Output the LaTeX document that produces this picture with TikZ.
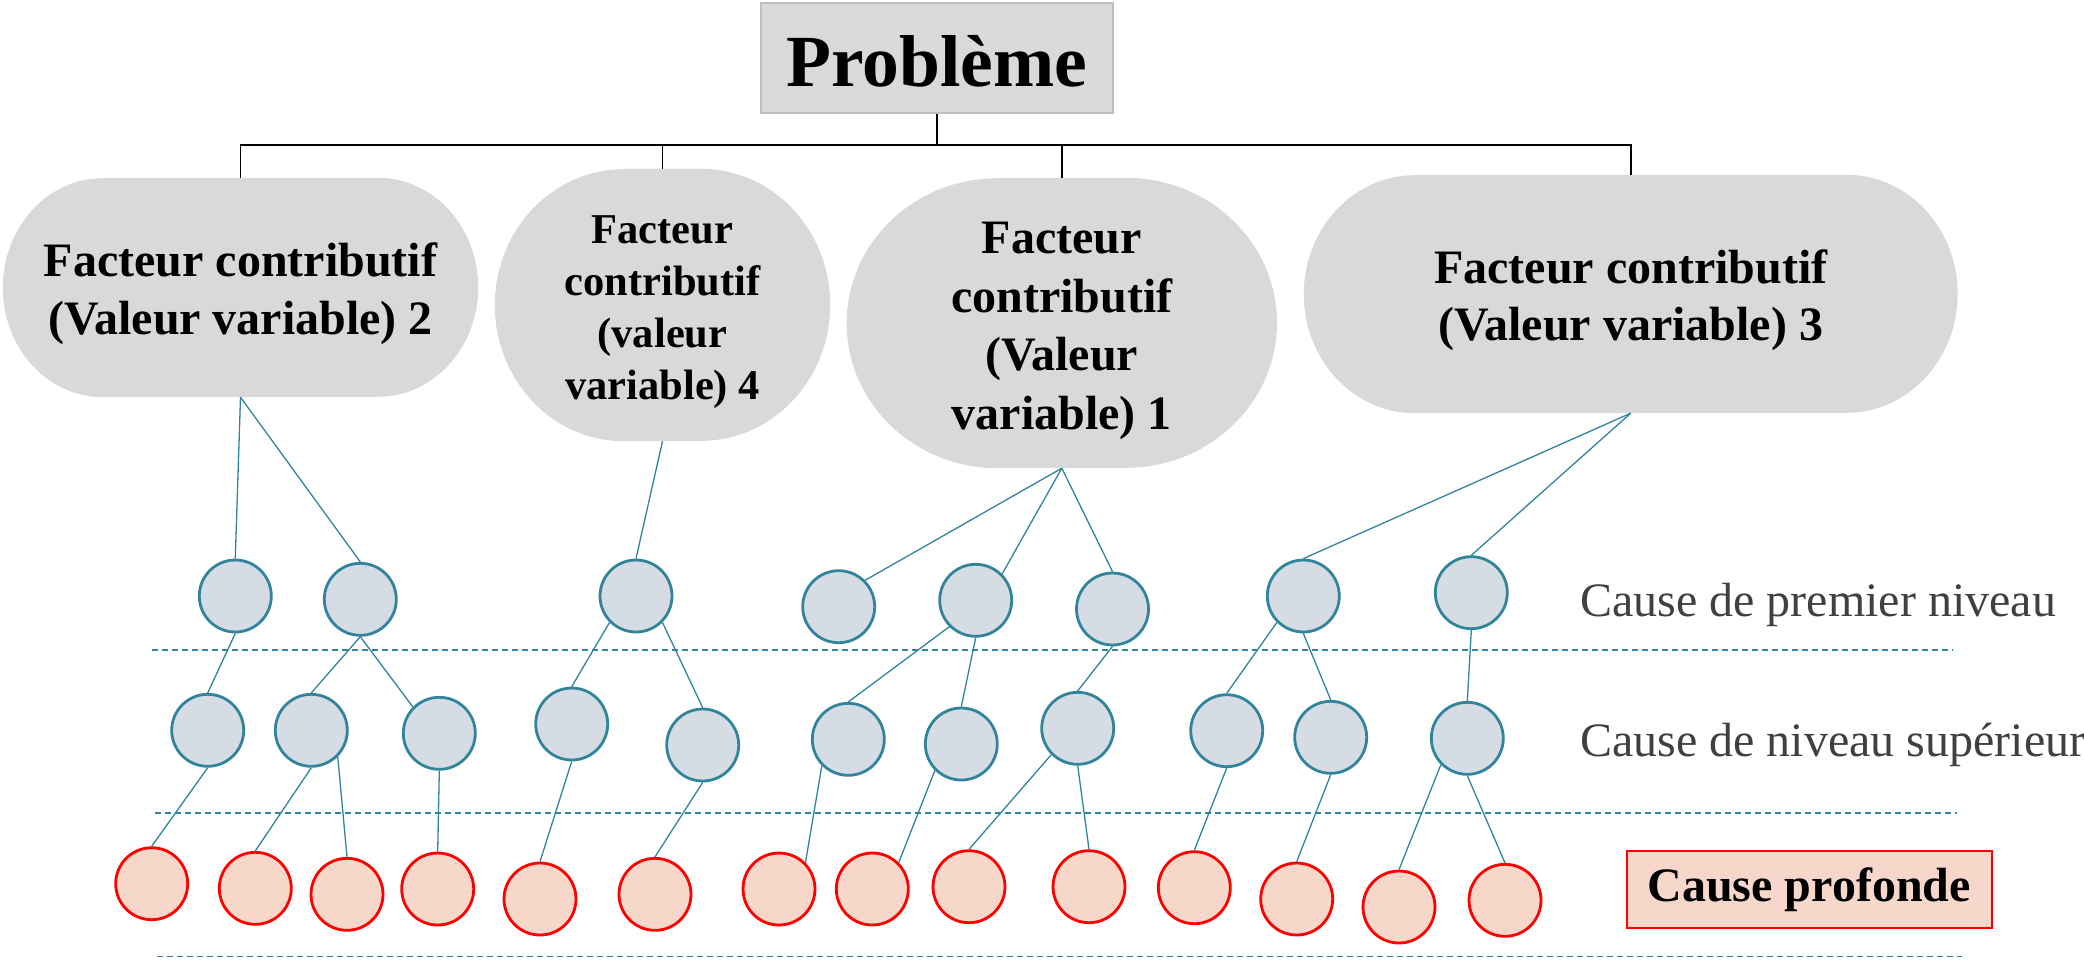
\documentclass[tikz,border=0pt]{standalone}
\usepackage{fontspec}
\setmainfont{Liberation Serif}
\usetikzlibrary{backgrounds}

\definecolor{boxgray}{HTML}{D9D9D9}
\definecolor{boxedge}{HTML}{BFBFBF}
\definecolor{tealline}{HTML}{31849B}
\definecolor{bluefill}{HTML}{D5DCE4}
\definecolor{redfill}{HTML}{F8D7CB}
\definecolor{pure red}{HTML}{FF0000}
\definecolor{labelgray}{HTML}{404040}

% rounded "stadium" with elliptical ends, behind a named node: name, x radius, y radius
\newcommand{\stadiumbox}[3]{%
  \fill[boxgray] ([xshift=#2]#1.north west) -- ([xshift=-#2]#1.north east)
    arc[start angle=90, end angle=-90, x radius=#2, y radius=#3]
    -- ([xshift=#2]#1.south west)
    arc[start angle=270, end angle=90, x radius=#2, y radius=#3] -- cycle;}

\tikzset{
  factor/.style={inner sep=0pt},
  factortext/.style={inner sep=0pt, align=center,
    font=\bfseries\fontsize{48}{57.5}\selectfont},
  cblue/.style={circle, draw=tealline, fill=bluefill, line width=2.8pt,
    minimum size=72pt, inner sep=0pt},
  cred/.style={circle, draw=pure red, fill=redfill, line width=2.8pt,
    minimum size=72pt, inner sep=0pt},
  link/.style={draw=tealline, line width=1.3pt},
  tree/.style={draw=black, line width=1.6pt},
  levelsep/.style={draw=tealline, line width=1.6pt, dash pattern=on 6pt off 4pt},
  levellabel/.style={anchor=base west, inner sep=0pt, text=labelgray,
    font=\fontsize{48}{57}\selectfont},
}

\begin{document}
\begin{tikzpicture}[x=1pt, y=-1pt]
\useasboundingbox (0,0) rectangle (2084,959);

% top problem box
\node[draw=boxedge, fill=boxgray, line width=2pt, minimum width=352pt,
  minimum height=110pt, inner sep=0pt] (prob) at (937,58) {};
\node[inner sep=0pt, font=\bfseries\fontsize{73.5}{88}\selectfont] (probtext)
  at ([yshift=-3pt]prob.center) {Problème};

% contributing factors: outline nodes, then their text
\node[factor, minimum width=475pt, minimum height=219pt] (f2) at (240.5,287.5) {};
\node[factor, minimum width=335pt, minimum height=272pt] (f4) at (662.5,305) {};
\node[factor, minimum width=430pt, minimum height=290pt] (f1) at (1061.8,323) {};
\node[factor, minimum width=653.5pt, minimum height=238pt] (f3) at (1630.7,294) {};

\begin{scope}[on background layer]
  \stadiumbox{f2}{100pt}{109.5pt}
  \stadiumbox{f4}{129pt}{136pt}
  \stadiumbox{f1}{151pt}{145pt}
  \stadiumbox{f3}{111pt}{119pt}
\end{scope}

\node[factortext] (f2text) at ([yshift=-6pt]f2.center)
  {Facteur contributif\\(Valeur variable) 2};
\node[factortext, font=\bfseries\fontsize{42.5}{51.8}\selectfont] (f4text)
  at ([yshift=-7pt]f4.center) {Facteur\\contributif\\(valeur\\variable) 4};
\node[factortext, font=\bfseries\fontsize{48}{58.5}\selectfont] (f1text)
  at ([yshift=-8pt]f1.center) {Facteur\\contributif\\(Valeur\\variable) 1};
\node[factortext] (f3text) at ([yshift=-6pt]f3.center)
  {Facteur contributif\\(Valeur variable) 3};

% organisation lines from the problem
\coordinate (bus) at (937,145);
\draw[tree] (prob.south) -- (bus);
\draw[tree] (bus) -| (f2.north);
\draw[tree] (bus) -| (f4.north);
\draw[tree] (bus) -| (f1.north);
\draw[tree] (bus) -| (f3.north);

% level separators
\coordinate (s1a) at (152,650);   \coordinate (s1b) at (1953,650);
\coordinate (s2a) at (155,813);   \coordinate (s2b) at (1957,813);
\coordinate (s3a) at (157,956.5); \coordinate (s3b) at (1962,956.5);
\draw[levelsep] (s1a) -- (s1b);
\draw[levelsep] (s2a) -- (s2b);
\draw[levelsep] (s3a) -- (s3b);

% first level causes
\node[cblue] (A) at (235.3,596) {};
\node[cblue] (B) at (360.3,599.3) {};
\node[cblue] (G) at (636,596) {};
\node[cblue] (H) at (838.7,606.7) {};
\node[cblue] (I) at (975.7,600.3) {};
\node[cblue] (J) at (1112.5,609) {};
\node[cblue] (P) at (1303.3,596) {};
\node[cblue] (Q) at (1471.3,592.7) {};

% higher level causes
\node[cblue] (C) at (207.7,730.3) {};
\node[cblue] (D) at (311.3,730.3) {};
\node[cblue] (E) at (439.3,733.3) {};
\node[cblue] (F) at (571.7,724) {};
\node[cblue] (K) at (702.7,745) {};
\node[cblue] (L) at (848.3,739.3) {};
\node[cblue] (M) at (961.3,744) {};
\node[cblue] (N) at (1077.7,728.3) {};
\node[cblue] (R) at (1226.7,730.7) {};
\node[cblue] (S) at (1330.7,737.3) {};
\node[cblue] (T) at (1467.3,738.3) {};

% root causes
\node[cred] (r1) at (151.7,883.7) {};
\node[cred] (r2) at (255.3,888.3) {};
\node[cred] (r3) at (347,894.3) {};
\node[cred] (r4) at (437.7,889) {};
\node[cred] (r5) at (540,899) {};
\node[cred] (r6) at (655,894.3) {};
\node[cred] (r7) at (779,889) {};
\node[cred] (r8) at (872.3,889) {};
\node[cred] (r9) at (969,886.7) {};
\node[cred] (r10) at (1089,886.7) {};
\node[cred] (r11) at (1194.3,887.7) {};
\node[cred] (r12) at (1296.7,899) {};
\node[cred] (r13) at (1399,907) {};
\node[cred] (r14) at (1505,900.3) {};

% factor to first level
\draw[link] (f2.south) -- (A.north);
\draw[link] (f2.south) -- (B.north);
\draw[link] (f4.south) -- (G.north);
\draw[link] (f1.south) -- (H.north east);
\draw[link] (f1.south) -- (I.north east);
\draw[link] (f1.south) -- (J.north);
\draw[link] (f3.south) -- (P.north);
\draw[link] (f3.south) -- (Q.north);

% first level to higher level
\draw[link] (A.south) -- (C.north);
\draw[link] (B.south) -- (D.north);
\draw[link] (B.south) -- (E.north west);
\draw[link] (G.south west) -- (F.north);
\draw[link] (G.south east) -- (K.north);
\draw[link] (I.south west) -- (L.north);
\draw[link] (I.south) -- (M.north);
\draw[link] (J.south) -- (N.north);
\draw[link] (P.south west) -- (R.north);
\draw[link] (P.south) -- (S.north);
\draw[link] (Q.south) -- (T.north);

% higher level to root causes
\draw[link] (C.south) -- (r1.north);
\draw[link] (D.south) -- (r2.north);
\draw[link] (D.south east) -- (r3.north);
\draw[link] (E.south) -- (r4.north);
\draw[link] (F.south) -- (r5.north);
\draw[link] (K.south) -- (r6.north);
\draw[link] (L.south west) -- (r7.north east);
\draw[link] (M.south west) -- (r8.north east);
\draw[link] (N.south west) -- (r9.north);
\draw[link] (N.south) -- (r10.north);
\draw[link] (R.south) -- (r11.north);
\draw[link] (S.south) -- (r12.north);
\draw[link] (T.south west) -- (r13.north);
\draw[link] (T.south) -- (r14.north);

% level labels
\node[levellabel] (lab1) at (1580,616) {Cause de premier niveau};
\node[levellabel] (lab2) at (1580,756.7) {Cause de niveau supérieur};
\node[draw=pure red, fill=redfill, line width=2pt, minimum width=365pt,
  minimum height=77pt, inner sep=0pt,
  font=\bfseries\fontsize{48}{57}\selectfont] (lab3) at (1809.2,889.2) {Cause profonde};
\end{tikzpicture}
\end{document}
